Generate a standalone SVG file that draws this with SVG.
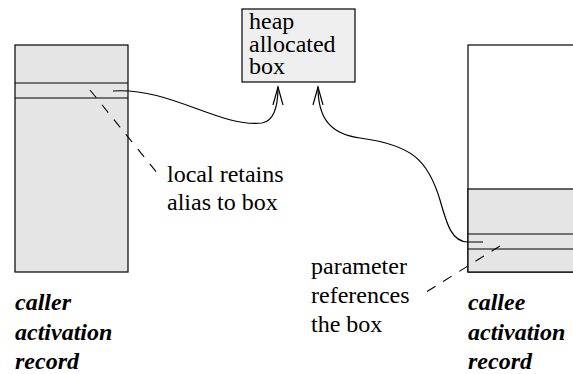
<svg xmlns="http://www.w3.org/2000/svg" width="573" height="374" viewBox="0 0 573 374">
<style>
text{font-family:'Liberation Serif','DejaVu Serif',serif;fill:#000}
.t{font-size:24px}
.b{font-size:24px;font-weight:bold;font-style:italic}
.box{stroke:#000;stroke-width:1.2}
.ln{stroke:#000;stroke-width:1.2;fill:none}
.dash{stroke:#000;stroke-width:1.1;fill:none;stroke-dasharray:10 9}
</style>
<defs>
<marker id="arr" markerWidth="20" markerHeight="14" refX="0" refY="0" viewBox="-18 -7 20 14" orient="auto" markerUnits="userSpaceOnUse">
<path d="M-18,-5 L0,0 L-18,5" fill="none" stroke="#000" stroke-width="1.2"/>
</marker>
</defs>
<g id="caller">
<rect class="box" x="15" y="45" width="113" height="227" fill="#e5e5e5"/>
<line class="ln" x1="15" y1="83" x2="128" y2="83"/>
<line class="ln" x1="15" y1="98" x2="128" y2="98"/>
<text class="b" x="15" y="310">caller</text>
<text class="b" x="15" y="340">activation</text>
<text class="b" x="15" y="369">record</text>
</g>
<g id="heap">
<rect class="box" x="242" y="9" width="113" height="73" fill="#efefef"/>
<text class="t" x="249" y="29">heap</text>
<text class="t" x="249" y="52">allocated</text>
<text class="t" x="249" y="74">box</text>
</g>
<g id="callee">
<rect class="box" x="468" y="45" width="120" height="227" fill="#fff"/>
<rect class="box" x="468" y="189" width="120" height="83" fill="#e5e5e5"/>
<line class="ln" x1="468" y1="234" x2="588" y2="234"/>
<line class="ln" x1="468" y1="249" x2="588" y2="249"/>
<text class="b" x="468" y="310">callee</text>
<text class="b" x="468" y="340">activation</text>
<text class="b" x="468" y="369">record</text>
</g>
<g id="labels">
<text class="t" x="167" y="182">local retains</text>
<text class="t" x="167" y="210">alias to box</text>
<text class="t" x="311" y="274">parameter</text>
<text class="t" x="311" y="303">references</text>
<text class="t" x="311" y="332">the box</text>
</g>
<g id="connectors">
<path class="ln" marker-end="url(#arr)" d="M113,91 C170,87 220,128 262,123 C275,121 278,105 278,87"/>
<path class="ln" marker-end="url(#arr)" d="M483,242 L468,242 C452,242 447,225 440,200 C428,160 412,145 360,138 C330,134 318,118 318,87"/>
<line class="dash" x1="90" y1="90" x2="158" y2="174"/>
<line class="dash" x1="500" y1="246" x2="423" y2="294"/>
</g>
</svg>
